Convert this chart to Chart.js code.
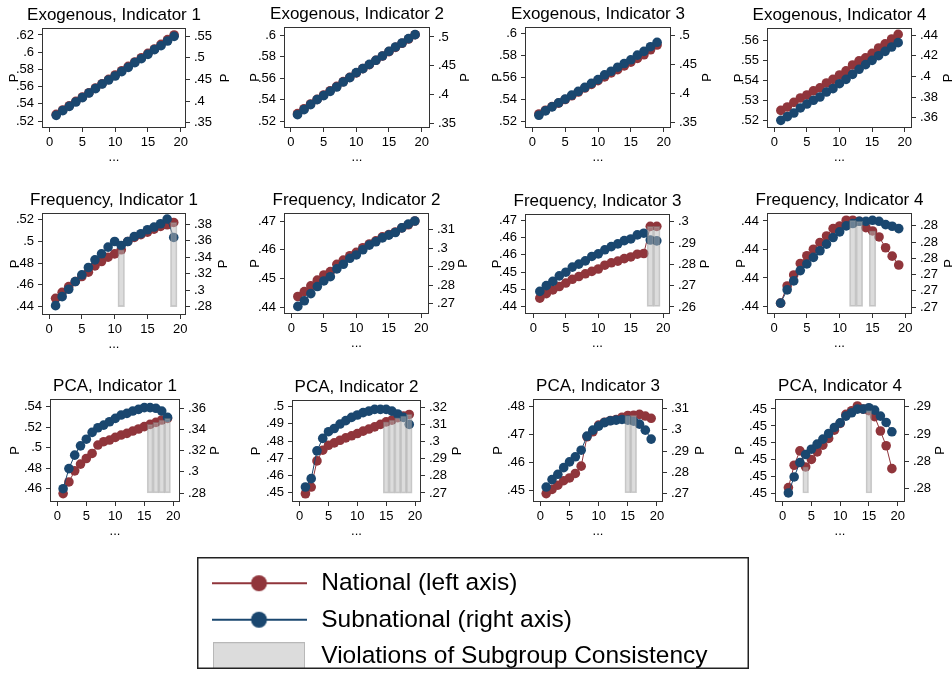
<!DOCTYPE html>
<html>
<head>
<meta charset="utf-8">
<script src="https://cdn.jsdelivr.net/npm/chart.js@4.4.1/dist/chart.umd.min.js"></script>
<style>
  body { margin: 0; background: #fff; width: 952px; height: 677px; position: relative; overflow: hidden; }
  canvas { position: absolute; }
</style>
</head>
<body>
<script>
// ---- data ----
const xs = [1, 2, 3, 4, 5, 6, 7, 8, 9, 10, 11, 12, 13, 14, 15, 16, 17, 18, 19];
const xTicks = [0, 5, 10, 15, 20];

const titles = [
  'Exogenous, Indicator 1', 'Exogenous, Indicator 2', 'Exogenous, Indicator 3', 'Exogenous, Indicator 4',
  'Frequency, Indicator 1', 'Frequency, Indicator 2', 'Frequency, Indicator 3', 'Frequency, Indicator 4',
  'PCA, Indicator 1', 'PCA, Indicator 2', 'PCA, Indicator 3', 'PCA, Indicator 4'
];

// national = left axis, subnational = right axis
const natExo1 = [0.5278, 0.5328, 0.5378, 0.5429, 0.5479, 0.5529, 0.5584, 0.5634, 0.5684, 0.5735, 0.5785, 0.5836, 0.5886, 0.5936, 0.5987, 0.6037, 0.6091, 0.6146, 0.6200];
const subExo1 = [0.3669, 0.3777, 0.3877, 0.3977, 0.4077, 0.4185, 0.4285, 0.4392, 0.4485, 0.4577, 0.4677, 0.4777, 0.4885, 0.4977, 0.5077, 0.5185, 0.5277, 0.5385, 0.5492];
const natExo2 = [0.5269, 0.5315, 0.5359, 0.5402, 0.5443, 0.5483, 0.5524, 0.5568, 0.5608, 0.5649, 0.5689, 0.5726, 0.5767, 0.5807, 0.5848, 0.5888, 0.5926, 0.5966, 0.6006];
const subExo2 = [0.3645, 0.3733, 0.3820, 0.3907, 0.3977, 0.4052, 0.4128, 0.4215, 0.4291, 0.4378, 0.4448, 0.4523, 0.4593, 0.4669, 0.4750, 0.4826, 0.4895, 0.4971, 0.5041];
const natExo3 = [0.5267, 0.5301, 0.5335, 0.5366, 0.5399, 0.5433, 0.5467, 0.5504, 0.5537, 0.5571, 0.5605, 0.5642, 0.5672, 0.5706, 0.5740, 0.5774, 0.5807, 0.5853, 0.5896];
const subExo3 = [0.3627, 0.3702, 0.3772, 0.3841, 0.3905, 0.3974, 0.4038, 0.4107, 0.4176, 0.4240, 0.4321, 0.4384, 0.4454, 0.4517, 0.4581, 0.4662, 0.4725, 0.4806, 0.4882];
const natExo4 = [0.5250, 0.5267, 0.5290, 0.5312, 0.5327, 0.5348, 0.5363, 0.5387, 0.5405, 0.5427, 0.5448, 0.5477, 0.5498, 0.5513, 0.5535, 0.5562, 0.5583, 0.5607, 0.5630];
const subExo4 = [0.3574, 0.3610, 0.3645, 0.3694, 0.3732, 0.3768, 0.3800, 0.3848, 0.3881, 0.3929, 0.3971, 0.4019, 0.4068, 0.4113, 0.4155, 0.4200, 0.4242, 0.4284, 0.4326];

const natFreq1 = [0.4477, 0.4532, 0.4585, 0.4631, 0.4677, 0.4717, 0.4775, 0.4815, 0.4855, 0.4886, 0.4923, 0.5000, 0.5037, 0.5062, 0.5086, 0.5114, 0.5138, 0.5154, 0.5175];
const subFreq1 = [0.2812, 0.2921, 0.3011, 0.3104, 0.3185, 0.3274, 0.3367, 0.3440, 0.3521, 0.3589, 0.3541, 0.3589, 0.3650, 0.3683, 0.3731, 0.3764, 0.3804, 0.3861, 0.3638];
const natFreq2 = [0.4437, 0.4454, 0.4474, 0.4494, 0.4512, 0.4524, 0.4549, 0.4564, 0.4579, 0.4591, 0.4607, 0.4620, 0.4631, 0.4645, 0.4653, 0.4662, 0.4676, 0.4687, 0.4700];
const subFreq2 = [0.2686, 0.2716, 0.2755, 0.2793, 0.2823, 0.2846, 0.2888, 0.2913, 0.2945, 0.2963, 0.2991, 0.3016, 0.3034, 0.3055, 0.3070, 0.3084, 0.3109, 0.3129, 0.3146];
const natFreq3 = [0.4424, 0.4437, 0.4448, 0.4458, 0.4468, 0.4479, 0.4487, 0.4495, 0.4502, 0.4509, 0.4520, 0.4527, 0.4532, 0.4539, 0.4544, 0.4552, 0.4554, 0.4633, 0.4633];
const subFreq3 = [0.2673, 0.2700, 0.2720, 0.2746, 0.2763, 0.2787, 0.2801, 0.2816, 0.2837, 0.2849, 0.2868, 0.2883, 0.2896, 0.2911, 0.2919, 0.2938, 0.2946, 0.2914, 0.2910];
const natFreq4 = [0.439623, 0.439744, 0.439821, 0.439902, 0.439956, 0.440002, 0.440049, 0.440095, 0.440147, 0.440165, 0.440205, 0.440205, 0.440198, 0.440153, 0.440130, 0.440088, 0.440012, 0.439953, 0.439891];
const subFreq4 = [0.27049, 0.27212, 0.27322, 0.27449, 0.27531, 0.27612, 0.27694, 0.27776, 0.27857, 0.27927, 0.28000, 0.28029, 0.28057, 0.28057, 0.28069, 0.28057, 0.28016, 0.27996, 0.27967];

const natPca1 = [0.4551, 0.4665, 0.4773, 0.4839, 0.4894, 0.4943, 0.5025, 0.5058, 0.5074, 0.5100, 0.5123, 0.5139, 0.5162, 0.5182, 0.5205, 0.5227, 0.5247, 0.5270, 0.5286];
const subPca1 = [0.2841, 0.3031, 0.3158, 0.3246, 0.3309, 0.3373, 0.3417, 0.3442, 0.3474, 0.3506, 0.3537, 0.3553, 0.3575, 0.3591, 0.3607, 0.3607, 0.3601, 0.3575, 0.3515];
const natPca2 = [0.4494, 0.4533, 0.4685, 0.4747, 0.4776, 0.4790, 0.4805, 0.4819, 0.4831, 0.4844, 0.4858, 0.4870, 0.4883, 0.4897, 0.4912, 0.4922, 0.4936, 0.4946, 0.4955];
const subPca2 = [0.2735, 0.2784, 0.2947, 0.3020, 0.3059, 0.3078, 0.3104, 0.3124, 0.3143, 0.3157, 0.3171, 0.3180, 0.3190, 0.3190, 0.3190, 0.3180, 0.3163, 0.3143, 0.3102];
const natPca3 = [0.4489, 0.4504, 0.4519, 0.4535, 0.4545, 0.4561, 0.4587, 0.4692, 0.4710, 0.4734, 0.4744, 0.4750, 0.4754, 0.4762, 0.4768, 0.4769, 0.4772, 0.4766, 0.4758];
const subPca3 = [0.2731, 0.2766, 0.2791, 0.2822, 0.2849, 0.2873, 0.2904, 0.2970, 0.2998, 0.3017, 0.3033, 0.3042, 0.3045, 0.3048, 0.3045, 0.3040, 0.3026, 0.2998, 0.2956];
const natPca4 = [0.450036, 0.450168, 0.450253, 0.450158, 0.450202, 0.450247, 0.450287, 0.450326, 0.450375, 0.450415, 0.450468, 0.450490, 0.450518, 0.450500, 0.450490, 0.450455, 0.450370, 0.450283, 0.450148];
const subPca4 = [0.283341, 0.283928, 0.284455, 0.284748, 0.284944, 0.285128, 0.285311, 0.285519, 0.285740, 0.285911, 0.286156, 0.286278, 0.286413, 0.286413, 0.286462, 0.286376, 0.286156, 0.285924, 0.285581];

const nationalSeries = [natExo1, natExo2, natExo3, natExo4, natFreq1, natFreq2, natFreq3, natFreq4, natPca1, natPca2, natPca3, natPca4];
const subnationalSeries = [subExo1, subExo2, subExo3, subExo4, subFreq1, subFreq2, subFreq3, subFreq4, subPca1, subPca2, subPca3, subPca4];

// x positions where subgroup consistency is violated, and the floor of the shaded bars (left axis)
const violations = [[], [], [], [], [11, 19], [], [18, 19], [12, 13, 15], [16, 17, 18, 19], [15, 16, 17, 18, 19], [15, 16], [4, 15]];
const violationBase = [0, 0, 0, 0, 0.44, 0, 0.44, 0.4396, 0.4558, 0.4498, 0.4492, 0.450004];

const leftTicks = [
  [0.52, 0.54, 0.56, 0.58, 0.60, 0.62], [0.52, 0.54, 0.56, 0.58, 0.60], [0.52, 0.54, 0.56, 0.58, 0.60], [0.52, 0.53, 0.54, 0.55, 0.56],
  [0.44, 0.46, 0.48, 0.50, 0.52], [0.44, 0.45, 0.46, 0.47], [0.440, 0.445, 0.450, 0.455, 0.460, 0.465], [0.4396, 0.4398, 0.4400, 0.4402],
  [0.46, 0.48, 0.50, 0.52, 0.54], [0.45, 0.46, 0.47, 0.48, 0.49, 0.50], [0.45, 0.46, 0.47, 0.48], [0.4500, 0.4501, 0.4502, 0.4503, 0.4504, 0.4505]
];
const leftTickLabels = [
  ['.52', '.54', '.56', '.58', '.6', '.62'], ['.52', '.54', '.56', '.58', '.6'], ['.52', '.54', '.56', '.58', '.6'], ['.52', '.53', '.54', '.55', '.56'],
  ['.44', '.46', '.48', '.5', '.52'], ['.44', '.45', '.46', '.47'], ['.44', '.45', '.45', '.46', '.46', '.47'], ['.44', '.44', '.44', '.44'],
  ['.46', '.48', '.5', '.52', '.54'], ['.45', '.46', '.47', '.48', '.49', '.5'], ['.45', '.46', '.47', '.48'], ['.45', '.45', '.45', '.45', '.45', '.45']
];
const rightTicks = [
  [0.35, 0.40, 0.45, 0.50, 0.55], [0.35, 0.40, 0.45, 0.50], [0.35, 0.40, 0.45, 0.50], [0.36, 0.38, 0.40, 0.42, 0.44],
  [0.28, 0.30, 0.32, 0.34, 0.36, 0.38], [0.27, 0.28, 0.29, 0.30, 0.31], [0.26, 0.27, 0.28, 0.29, 0.30], [0.270, 0.272, 0.274, 0.276, 0.278, 0.280],
  [0.28, 0.30, 0.32, 0.34, 0.36], [0.27, 0.28, 0.29, 0.30, 0.31, 0.32], [0.27, 0.28, 0.29, 0.30, 0.31], [0.2835, 0.2845, 0.2855, 0.2865]
];
const rightTickLabels = [
  ['.35', '.4', '.45', '.5', '.55'], ['.35', '.4', '.45', '.5'], ['.35', '.4', '.45', '.5'], ['.36', '.38', '.4', '.42', '.44'],
  ['.28', '.3', '.32', '.34', '.36', '.38'], ['.27', '.28', '.29', '.3', '.31'], ['.26', '.27', '.28', '.29', '.3'], ['.27', '.27', '.27', '.28', '.28', '.28'],
  ['.28', '.3', '.32', '.34', '.36'], ['.27', '.28', '.29', '.3', '.31', '.32'], ['.27', '.28', '.29', '.3', '.31'], ['.28', '.28', '.29', '.29']
];
const leftRange = [
  [0.5119, 0.6281], [0.5135, 0.6078], [0.5139, 0.6061], [0.5162, 0.5662],
  [0.4323, 0.5262], [0.4376, 0.4728], [0.4378, 0.4669], [0.439547, 0.440256],
  [0.4469, 0.5475], [0.4446, 0.5039], [0.4459, 0.4827], [0.449951, 0.450559]
];
const rightRange = [
  [0.3377, 0.5685], [0.3413, 0.5174], [0.3408, 0.5145], [0.3500, 0.4468],
  [0.2699, 0.3934], [0.2645, 0.3189], [0.2567, 0.3036], [0.269143, 0.281592],
  [0.2715, 0.3689], [0.2647, 0.3245], [0.2661, 0.3144], [0.283010, 0.286782]
];
const xRange = [
  [-1.17, 20.81], [-1.07, 21.28], [-1.12, 21.12], [-1.12, 21.12],
  [-1.07, 20.87], [-1.13, 21.18], [-1.28, 21.03], [-1.07, 21.02],
  [-1.26, 21.15], [-1.33, 21.04], [-1.26, 21.03], [-1.33, 21.28]
];

const legendLabels = ['National (left axis)', 'Subnational (right axis)', 'Violations of Subgroup Consistency'];

// ---- layout (pixels) ----
// plot box of each panel: left, top, right, bottom
const boxes = [
  [42, 28, 186, 128], [284, 27, 430, 128], [525, 27, 671, 128], [767, 28, 912, 128],
  [42, 213, 186, 315], [284, 213, 429, 314], [525, 214, 670, 314], [767, 213, 912, 314],
  [50, 399, 180, 502], [292, 400, 421, 502], [533, 399, 663, 502], [775, 399, 905, 502]
];
// distance from box edge to the centre of the "P" axis titles
const pLeft = [28, 29, 28, 28, 27, 29, 28, 26, 35, 36, 35, 35];
const pRight = [39, 35, 36, 36, 37, 34, 35, 37, 35, 36, 37, 35];
const SIDE = 48;   // width of each y axis block
const TOP = 30;    // space for the panel title
const BOTTOM = 37; // x axis block

const NAT = '#90353b';
const SUB = '#1a476f';
const FONT = "'Liberation Sans', Arial, Helvetica, sans-serif";
Chart.defaults.font.family = FONT;
Chart.defaults.color = '#000';

// plot frame and the two "P" axis titles (both read bottom-to-top, as in Stata)
const framePlugin = {
  id: 'frame',
  beforeDatasetsDraw(chart) {
    const a = chart.chartArea, ctx = chart.ctx;
    ctx.save();
    ctx.strokeStyle = '#333';
    ctx.lineWidth = 1;
    ctx.strokeRect(Math.round(a.left) + 0.5, Math.round(a.top) + 0.5, Math.round(a.right - a.left) - 1, Math.round(a.bottom - a.top) - 1);
    ctx.restore();
  },
  afterDraw(chart, args, opts) {
    const a = chart.chartArea, ctx = chart.ctx;
    const midY = (a.top + a.bottom) / 2;
    ctx.save();
    ctx.font = '13px ' + FONT;
    ctx.fillStyle = '#000';
    ctx.textAlign = 'center';
    ctx.textBaseline = 'middle';
    [[a.left - opts.left, midY], [a.right + opts.right, midY]].forEach(([px, py]) => {
      ctx.save();
      ctx.translate(px, py);
      ctx.rotate(-Math.PI / 2);
      ctx.fillText('P', 0, 0);
      ctx.restore();
    });
    ctx.restore();
  }
};

function yScale(pos, range, ticks, labels) {
  return {
    type: 'linear',
    position: pos,
    min: range[0],
    max: range[1],
    afterBuildTicks: s => { s.ticks = ticks.map(v => ({ value: v })); },
    afterFit: s => { s.width = SIDE; },
    ticks: { autoSkip: false, padding: 4, color: '#000', font: { size: 13 }, callback: (v, i) => labels[i] },
    grid: { display: true, drawOnChartArea: false, drawTicks: true, tickLength: 4, color: '#333' },
    border: { display: false },
    title: { display: false }
  };
}

function makePanel(i) {
  const [L, T, R, B] = boxes[i];
  const cv = document.createElement('canvas');
  cv.width = SIDE * 2 + (R - L);
  cv.height = TOP + (B - T) + BOTTOM;
  cv.style.left = (L - SIDE) + 'px';
  cv.style.top = (T - TOP) + 'px';
  document.body.appendChild(cv);

  const nat = nationalSeries[i], sub = subnationalSeries[i];
  const unit = (R - L) / (xRange[i][1] - xRange[i][0]);

  new Chart(cv, {
    type: 'line',
    data: {
      datasets: [
        {
          type: 'bar',
          data: violations[i].map(x => ({ x: x, y: [violationBase[i], nat[x - 1]] })),
          yAxisID: 'y',
          backgroundColor: 'rgba(185,185,185,0.5)',
          borderColor: 'rgba(140,140,140,0.45)',
          borderWidth: 1,
          borderSkipped: false,
          barThickness: unit,
          order: 0
        },
        {
          data: xs.map((x, k) => ({ x: x, y: sub[k] })),
          yAxisID: 'y2',
          borderColor: SUB, backgroundColor: SUB,
          borderWidth: 1, pointRadius: 4.8, pointBorderWidth: 0, pointBackgroundColor: SUB,
          tension: 0, order: 1
        },
        {
          data: xs.map((x, k) => ({ x: x, y: nat[k] })),
          yAxisID: 'y',
          borderColor: NAT, backgroundColor: NAT,
          borderWidth: 1, pointRadius: 4.8, pointBorderWidth: 0, pointBackgroundColor: NAT,
          tension: 0, order: 2
        }
      ]
    },
    options: {
      responsive: false,
      animation: false,
      events: [],
      scales: {
        x: {
          type: 'linear',
          offset: false,
          min: xRange[i][0],
          max: xRange[i][1],
          afterBuildTicks: s => { s.ticks = xTicks.map(v => ({ value: v })); },
          afterFit: s => { s.height = BOTTOM; },
          ticks: { autoSkip: false, maxRotation: 0, padding: 3, color: '#000', font: { size: 13 }, callback: v => String(v) },
          grid: { display: true, offset: false, drawOnChartArea: false, drawTicks: true, tickLength: 4, color: '#333' },
          border: { display: false },
          title: { display: true, text: '...', color: '#000', font: { size: 13 }, padding: 0 }
        },
        y: yScale('left', leftRange[i], leftTicks[i], leftTickLabels[i]),
        y2: yScale('right', rightRange[i], rightTicks[i], rightTickLabels[i])
      },
      plugins: {
        legend: { display: false },
        tooltip: { enabled: false },
        title: {
          display: true, text: titles[i], color: '#000',
          font: { size: 17, weight: 'normal' }, padding: { top: 6.8, bottom: 2.8 }
        },
        frame: { left: pLeft[i], right: pRight[i] }
      }
    },
    plugins: [framePlugin]
  });
}

for (let i = 0; i < 12; i++) makePanel(i);

// ---- legend ----
function lineIcon(color) {
  const c = document.createElement('canvas');
  c.width = 95; c.height = 20;
  const g = c.getContext('2d');
  g.strokeStyle = color; g.lineWidth = 2;
  g.beginPath(); g.moveTo(0, 10); g.lineTo(95, 10); g.stroke();
  g.fillStyle = color;
  g.beginPath(); g.arc(47.5, 10, 8, 0, Math.PI * 2); g.fill();
  return c;
}
function boxIcon() {
  const c = document.createElement('canvas');
  c.width = 92; c.height = 28;
  const g = c.getContext('2d');
  g.fillStyle = 'rgba(185,185,185,0.5)';
  g.fillRect(0, 0, 92, 28);
  g.strokeStyle = 'rgba(140,140,140,0.45)';
  g.strokeRect(0.5, 0.5, 91, 27);
  return c;
}
const legendIcons = [lineIcon(NAT), lineIcon(SUB), boxIcon()];

const legendFrame = {
  id: 'legendFrame',
  afterDraw(chart) {
    const ctx = chart.ctx;
    ctx.save();
    ctx.strokeStyle = '#222';
    ctx.lineWidth = 1.5;
    ctx.strokeRect(0.75, 0.75, chart.width - 1.5, chart.height - 1.5);
    ctx.restore();
  }
};

const lc = document.createElement('canvas');
lc.width = 552; lc.height = 112;
lc.style.left = '197px'; lc.style.top = '557px';
document.body.appendChild(lc);
new Chart(lc, {
  type: 'line',
  data: { datasets: [] },
  options: {
    responsive: false,
    animation: false,
    events: [],
    layout: { padding: { top: 2 } },
    scales: { x: { display: false }, y: { display: false } },
    plugins: {
      tooltip: { enabled: false },
      legend: {
        display: true, position: 'top', align: 'start', maxHeight: 200,
        labels: {
          usePointStyle: true, pointStyleWidth: 100, padding: 12,
          color: '#000', font: { size: 24.5 },
          generateLabels: () => legendLabels.map((t, k) => ({
            text: t, pointStyle: legendIcons[k], fillStyle: 'transparent', strokeStyle: 'transparent',
            lineWidth: 0, hidden: false, fontColor: '#000', datasetIndex: k
          }))
        }
      }
    }
  },
  plugins: [legendFrame]
});
</script>
</body>
</html>
